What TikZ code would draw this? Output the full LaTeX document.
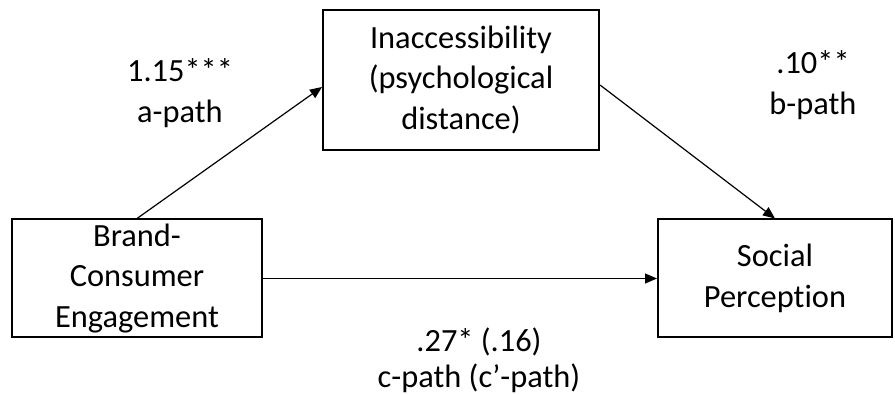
\documentclass[tikz,border=0pt]{standalone}
\usepackage{fontspec}
\setmainfont{Carlito}[Ligatures=NoCommon]
\usetikzlibrary{arrows.meta,positioning}
\tikzset{
  varbox/.style={draw, line width=1pt, align=center, inner sep=0pt,
    font=\fontsize{16.2}{20.2}\selectfont},
  pathlabel/.style={align=center, inner sep=0pt,
    font=\fontsize{16.2}{20.2}\selectfont},
  effect/.style={-{Triangle[length=6pt,width=5pt]}, line width=0.6pt},
}
\begin{document}
\begin{tikzpicture}[x=0.5pt,y=-0.5pt]
  \useasboundingbox (0,0) rectangle (895,395);

  % Variabelen
  \node[varbox, minimum width=138pt, minimum height=70pt] (inacc) at (461,80)
    {Inaccessibility\\(psychological\\distance)};
  \node[varbox, minimum width=125pt, minimum height=59pt] (brand) at (137,278.5)
    {Brand-\\Consumer\\Engagement};
  \node[varbox, minimum width=117pt, minimum height=59pt] (social) at (775,278.5)
    {Social\\Perception};

  % Paden
  \draw[effect] (brand.north) -- ([yshift=-3.5pt]inacc.west);
  \draw[effect] ([yshift=-2.5pt]inacc.east) -- (social.north);
  \draw[effect] (brand.east) -- (social.west);

  % Coefficienten
  \node[pathlabel] (alab) at (180,93) {1.15***\\a-path};
  \node[pathlabel] (blab) at (813,85) {.10**\\b-path};
  \node[pathlabel, font=\fontsize{16.2}{18}\selectfont] (clab) at (479,360)
    {.27* (.16)\\c-path (c’-path)};

\end{tikzpicture}
\end{document}
